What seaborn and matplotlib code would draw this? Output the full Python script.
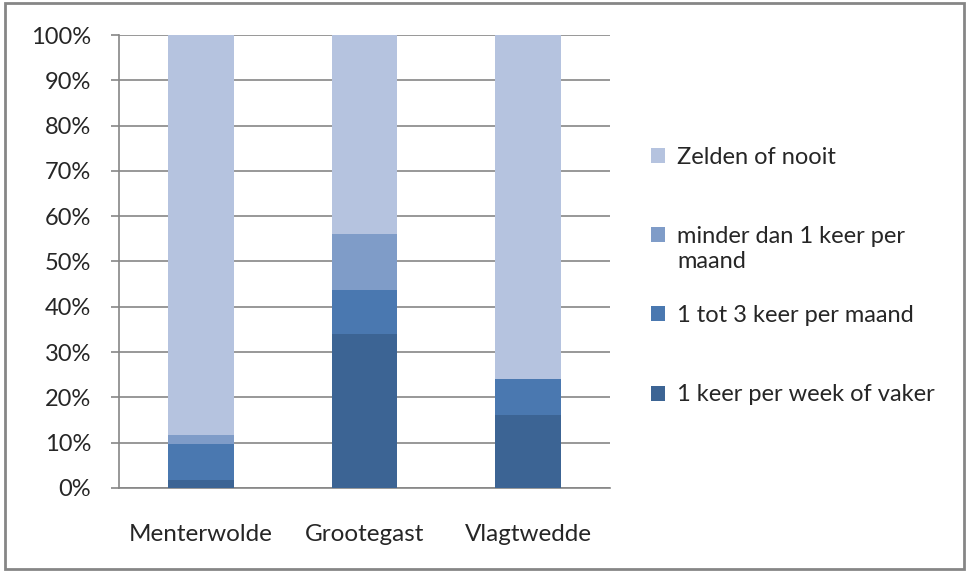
import numpy as np
import pandas as pd
import seaborn as sns
import matplotlib.pyplot as plt
from matplotlib.patches import Patch, Rectangle

gemeenten = ['Menterwolde', 'Grootegast', 'Vlagtwedde']
series = ['1 keer per week of vaker', '1 tot 3 keer per maand',
          'minder dan 1 keer per', 'Zelden of nooit']
series_vervolg = 'maand'  # second line of the 'minder dan 1 keer per' label
wekelijks = [1.7, 34.0, 16.2]
maandelijks = [7.9, 9.8, 7.8]
minder = [2.0, 12.2, 0.0]
zelden = [88.4, 44.0, 76.0]
kleuren = ['#3C6494', '#4A78B0', '#7F9CC8', '#B5C3DF']

sns.set_style('white')
plt.rcParams['font.family'] = ['Lato', 'DejaVu Sans']

fig = plt.figure(figsize=(9.69, 5.72), dpi=100)
ax = fig.add_axes([0.1228, 0.1469, 0.5067, 0.7919])

df = pd.DataFrame({'gemeente': gemeenten, series[0]: wekelijks, series[1]: maandelijks,
                   series[2]: minder, series[3]: zelden})
bodem = np.zeros(len(gemeenten))
for s, c in zip(series, kleuren):
    sns.barplot(data=df, x='gemeente', y=s, bottom=bodem, color=c, width=0.4,
                saturation=1, ax=ax, zorder=3, edgecolor='none', linewidth=0)
    bodem = bodem + df[s].values

grijs = '#868686'
ax.set_ylim(0, 100)
ax.set_xlim(-0.5, 2.5)
ax.set_yticks(np.arange(0, 101, 10))
ax.set_yticklabels([f'{v}%' for v in range(0, 101, 10)], fontsize=17)
ax.yaxis.grid(True, color=grijs, linewidth=1.2, zorder=0)
ax.set_axisbelow(True)
ax.set_xlabel('')
ax.set_ylabel('')
ax.set_xticks([0, 1, 2])
ax.set_xticklabels(gemeenten, fontsize=17.5)
ax.set_xticks([-0.5, 0.5, 1.5, 2.5], minor=True)
ax.tick_params(axis='x', which='major', length=0, pad=26)
ax.tick_params(axis='x', which='minor', length=6, color=grijs, width=1.2)
ax.tick_params(axis='y', length=6, color=grijs, width=1.2, left=True, pad=14)
for k in ['top', 'right']:
    ax.spines[k].set_visible(False)
for k in ['left', 'bottom']:
    ax.spines[k].set_color(grijs)
    ax.spines[k].set_linewidth(1.2)

handles = [Patch(facecolor=c, edgecolor='none', label=s) for s, c in zip(series, kleuren)][::-1]
leg = fig.legend(handles=handles, loc='upper left', bbox_to_anchor=(0.65, 0.781),
                 frameon=False, fontsize=17, handlelength=0.6, handleheight=0.6,
                 handletextpad=0.5, labelspacing=2.47)

# put 'maand' on its own line under the wrapped legend label
fig.canvas.draw()
bb = leg.get_texts()[1].get_window_extent().transformed(fig.transFigure.inverted())
fig.text(bb.x0, bb.y0 - 0.008, series_vervolg, fontsize=17, va='top', ha='left')

fig.patches.append(Rectangle((0.005, 0.005), 0.99, 0.99, transform=fig.transFigure,
                             fill=False, edgecolor=grijs, linewidth=2))

fig.savefig('out.png', dpi=100)
